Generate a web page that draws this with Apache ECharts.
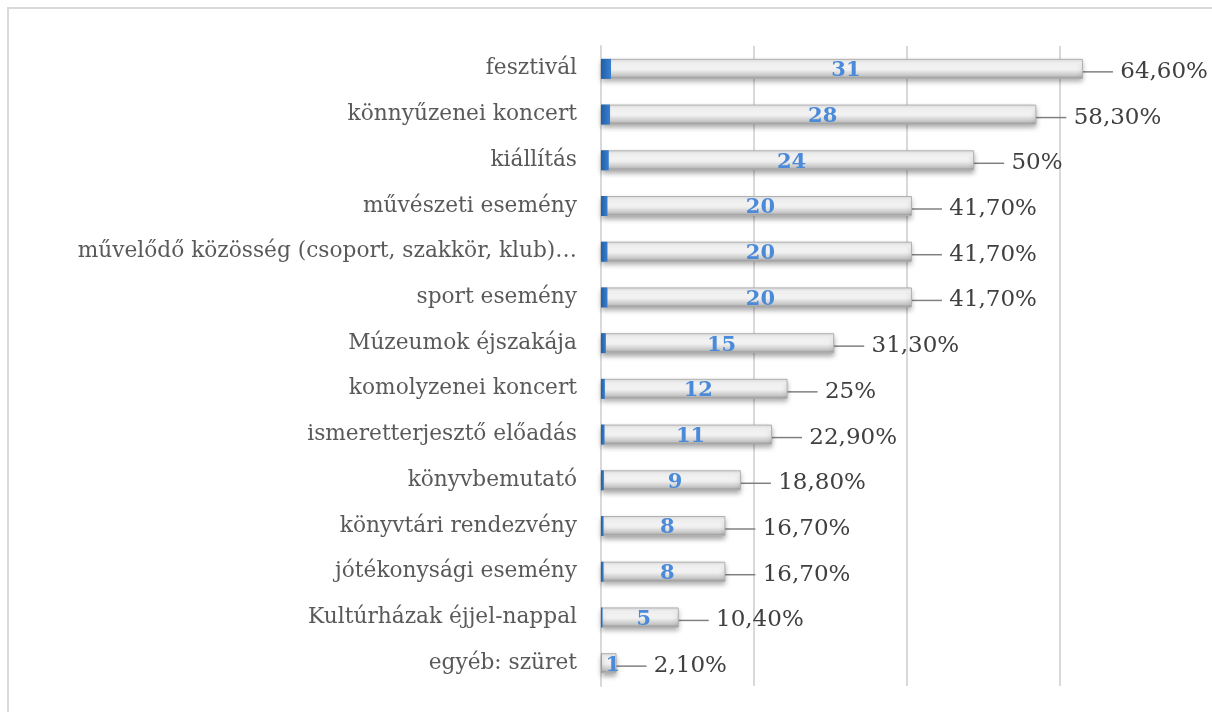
<!DOCTYPE html>
<html>
<head>
<meta charset="utf-8">
<script src="https://cdn.jsdelivr.net/npm/echarts@6/dist/echarts.min.js"></script>
<style>
html,body{margin:0;padding:0;background:#fff;}
#chart{width:1212px;height:712px;}
</style>
</head>
<body>
<div id="chart"></div>
<script>
var categories = [
  'fesztivál',
  'könnyűzenei koncert',
  'kiállítás',
  'művészeti esemény',
  'művelődő közösség (csoport, szakkör, klub)…',
  'sport esemény',
  'Múzeumok éjszakája',
  'komolyzenei koncert',
  'ismeretterjesztő előadás',
  'könyvbemutató',
  'könyvtári rendezvény',
  'jótékonysági esemény',
  'Kultúrházak éjjel-nappal',
  'egyéb: szüret'
];
var counts = [31, 28, 24, 20, 20, 20, 15, 12, 11, 9, 8, 8, 5, 1];
var shares = [0.646, 0.583, 0.5, 0.417, 0.417, 0.417, 0.313, 0.25, 0.229, 0.188, 0.167, 0.167, 0.104, 0.021];
var pctLabels = ['64,60%', '58,30%', '50%', '41,70%', '41,70%', '41,70%', '31,30%', '25%', '22,90%', '18,80%', '16,70%', '16,70%', '10,40%', '2,10%'];

var chart = echarts.init(document.getElementById('chart'), null, {renderer: 'canvas'});
var serif = 'DejaVu Serif';
var option = {
  animation: false,
  backgroundColor: '#ffffff',
  graphic: [{
    type: 'rect', x: 8, y: 8, z: -1,
    shape: {x: 0, y: 0, width: 1230, height: 730},
    style: {fill: 'none', stroke: '#d9d9d9', lineWidth: 2}
  }],
  grid: {left: 601, top: 46, width: 613, height: 640, containLabel: false},
  xAxis: [{
    // gridline axis (back wall of the 3D chart)
    type: 'value', min: 0, max: 40, interval: 10,
    axisLabel: {show: false},
    axisLine: {show: false},
    axisTick: {show: false},
    splitLine: {show: true, showMaxLine: false, lineStyle: {color: '#d9d9d9', width: 2}}
  }, {
    // front face of the 3D bars is drawn slightly larger (perspective)
    type: 'value', min: 0, max: 39.3, show: false,
    splitLine: {show: false}
  }],
  yAxis: {
    type: 'category', data: categories, inverse: true,
    axisLine: {show: true, lineStyle: {color: '#d9d9d9', width: 2}},
    axisTick: {show: false},
    axisLabel: {fontFamily: serif, fontSize: 21.7, color: '#595959', margin: 24, padding: [6, 0, 0, 0]}
  },
  series: [
    {
      name: 'count', type: 'bar', xAxisIndex: 1, data: counts, barWidth: 20, barGap: '-100%', z: 2,
      itemStyle: {
        color: {type: 'linear', x: 0, y: 0, x2: 0, y2: 1, colorStops: [
          {offset: 0, color: '#e2e2e2'},
          {offset: 0.2, color: '#fcfcfc'},
          {offset: 0.55, color: '#efefef'},
          {offset: 0.85, color: '#c4c4c4'},
          {offset: 1, color: '#8f8f8f'}
        ]},
        borderColor: '#b0b0b0', borderWidth: 1,
        shadowColor: 'rgba(0,0,0,0.35)', shadowBlur: 5, shadowOffsetY: 3
      },
      label: {
        show: true, position: 'right', distance: 2,
        formatter: function (p) { return ' ' + pctLabels[p.dataIndex]; },
        fontFamily: serif, fontSize: 23, color: '#404040'
      },
      labelLayout: function (p) {
        var dx = 28;
        var over = p.labelRect.x + p.labelRect.width + dx - 1208;
        if (over > 0) dx -= over;
        return {dx: dx, dy: 3};
      },
      labelLine: {show: true, lineStyle: {color: '#808080', width: 1.5}}
    },
    {
      name: 'share', type: 'bar', xAxisIndex: 1, data: shares, barWidth: 20, z: 3,
      itemStyle: {
        color: {type: 'linear', x: 0, y: 0, x2: 1, y2: 0, colorStops: [
          {offset: 0, color: '#1f5fa8'},
          {offset: 1, color: '#3a7fcf'}
        ]}
      }
    },
    {
      name: 'countLabel', type: 'bar', xAxisIndex: 1, data: counts, barWidth: 20, z: 4,
      itemStyle: {color: 'rgba(0,0,0,0)'},
      label: {
        show: true, position: 'inside', offset: [4, 2],
        fontFamily: serif, fontSize: 21, fontWeight: 'bold', color: '#4a8ad8'
      }
    }
  ]
};
chart.setOption(option);
</script>
</body>
</html>
